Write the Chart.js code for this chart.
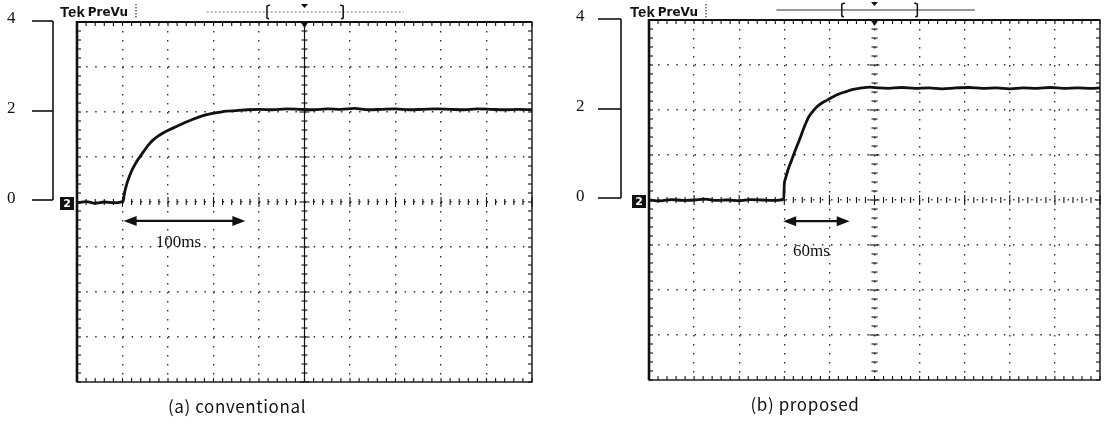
<!DOCTYPE html>
<html>
<head>
<meta charset="utf-8">
<script src="https://cdn.jsdelivr.net/npm/chart.js@4.4.0/dist/chart.umd.min.js"></script>
<style>
    html, body { margin: 0; padding: 0; background: #fff; }
    .panel { position: absolute; top: 0; width: 552px; height: 424px; }
</style>
</head>
<body>
<div class="panel" style="left:0"><canvas id="convChart" width="552" height="424"></canvas></div>
<div class="panel" style="left:552px"><canvas id="propChart" width="552" height="424"></canvas></div>
<script>
// scope screen: 10 div x 40 ms, 8 div x 1 unit
var timeMin = 0, timeMax = 400, timeDiv = 40;
var voltMin = -4, voltMax = 4;
var voltTickLabels = [0, 2, 4];

// (a) conventional
var convTimeMs = [0, 8, 16, 24, 32, 40, 40.5, 42, 44, 46.5, 49, 52.5, 55.5, 58.5, 62.5, 67,
    71.5, 76, 81.5, 87.5, 94.5, 102, 109.5, 117, 124, 131.5,
    140, 150, 161, 172, 184, 196, 208, 220, 232, 244,
    256, 268, 280, 292, 304, 316, 328, 340, 352, 364, 376, 388, 400];
var convVolt = [-0.02, 0.01, -0.03, 0.0, -0.02, 0.01, 0.02, 0.23, 0.42, 0.6, 0.74, 0.9, 1.01, 1.12, 1.26, 1.38,
    1.47, 1.54, 1.61, 1.68, 1.76, 1.84, 1.91, 1.96, 1.99, 2.02,
    2.03, 2.05, 2.06, 2.05, 2.07, 2.06, 2.05, 2.07, 2.06, 2.08,
    2.05, 2.06, 2.07, 2.05, 2.06, 2.07, 2.06, 2.05, 2.07, 2.06, 2.05, 2.06, 2.05];

// (b) proposed
var propTimeMs = [0, 10, 20, 30, 40, 50, 60, 70, 80, 90, 100, 110,
    119.5, 120, 121, 123.5, 126, 128, 130, 132.5, 135, 137,
    139, 141.5, 145, 149, 153, 158, 163, 169, 175, 181,
    188, 196, 204, 212, 224, 236, 248, 260, 272, 284,
    296, 308, 320, 332, 344, 356, 368, 380, 392, 400];
var propVolt = [0.0, -0.02, 0.01, -0.01, 0.0, 0.02, -0.01, 0.0, -0.02, 0.01, 0.0, -0.01,
    0.02, 0.35, 0.47, 0.69, 0.85, 0.99, 1.12, 1.28, 1.44, 1.58,
    1.7, 1.84, 1.96, 2.07, 2.15, 2.22, 2.29, 2.36, 2.41, 2.46,
    2.49, 2.51, 2.49, 2.48, 2.5, 2.48, 2.49, 2.47, 2.49, 2.5,
    2.48, 2.49, 2.47, 2.49, 2.48, 2.5, 2.48, 2.49, 2.48, 2.49];

function seg(ctx, x1, y1, x2, y2) {
    ctx.beginPath();
    ctx.moveTo(x1, y1);
    ctx.lineTo(x2, y2);
    ctx.stroke();
}

// bezel, graticule ticks, labels and the arrow
var scopeDecor = {
    id: 'scopeDecor',
    beforeDatasetsDraw: function (chart, args, o) {
        var ctx = chart.ctx, a = chart.chartArea;
        var xs = chart.scales.x, ys = chart.scales.y;
        var cx = xs.getPixelForValue((timeMin + timeMax) / 2);
        var cy = ys.getPixelForValue(0);
        ctx.save();
        ctx.strokeStyle = '#111';
        ctx.fillStyle = '#111';

        // frame
        ctx.lineWidth = 1.4;
        ctx.strokeRect(a.left, a.top, a.right - a.left, a.bottom - a.top);
        ctx.lineWidth = 2.6;
        seg(ctx, a.left, a.top - 1, a.left, a.bottom);
        ctx.lineWidth = 2;
        seg(ctx, a.left, a.top, a.right, a.top);
        if (o.solidCenter) {
            ctx.lineWidth = 1.2;
            seg(ctx, cx, a.top, cx, a.bottom);
        }

        // minor ticks every 1/5 division
        ctx.lineWidth = 1.1;
        for (var t = timeMin; t <= timeMax; t += timeDiv / 5) {
            var px = xs.getPixelForValue(t);
            var big = (t % timeDiv === 0) ? 5 : 3;
            seg(ctx, px, a.top, px, a.top + 4);
            seg(ctx, px, a.bottom, px, a.bottom - 4);
            seg(ctx, px, cy - big, px, cy + big);
        }
        for (var i = voltMin * 5; i <= voltMax * 5; i++) {
            var py = ys.getPixelForValue(i / 5);
            var bg = (i % 5 === 0) ? 5 : 3;
            seg(ctx, a.left, py, a.left + 4, py);
            seg(ctx, a.right, py, a.right - 4, py);
            seg(ctx, cx - bg, py, cx + bg, py);
        }

        // trigger mark on top edge
        ctx.beginPath();
        ctx.moveTo(cx - 4, a.top);
        ctx.lineTo(cx + 4, a.top);
        ctx.lineTo(cx, a.top + 6);
        ctx.closePath();
        ctx.fill();

        // bracket scale on the left
        ctx.lineWidth = 1.6;
        var bx = a.left - o.bracketGap;
        var yTop = ys.getPixelForValue(voltTickLabels[voltTickLabels.length - 1]) + o.bracketShift;
        var yBot = ys.getPixelForValue(voltTickLabels[0]) + o.bracketShift * 2;
        seg(ctx, bx, yTop, bx, yBot);
        voltTickLabels.forEach(function (v, k) {
            var yy = ys.getPixelForValue(v) + o.bracketShift * (k === 0 ? 2 : 1);
            seg(ctx, bx - o.bracketTick, yy, bx, yy);
        });

        // record window indicator
        var ty = o.trigY;
        ctx.lineWidth = 1;
        ctx.strokeStyle = o.trigColor;
        ctx.setLineDash(o.trigDash);
        seg(ctx, xs.getPixelForValue(o.trigFrom), ty, xs.getPixelForValue(o.trigTo), ty);
        ctx.setLineDash([]);
        ctx.strokeStyle = '#111';
        ctx.lineWidth = 1.5;
        var bl = xs.getPixelForValue(o.trigL), br = xs.getPixelForValue(o.trigR);
        ctx.beginPath();
        ctx.moveTo(bl + 3, ty - 7); ctx.lineTo(bl, ty - 6); ctx.lineTo(bl, ty + 6); ctx.lineTo(bl + 2, ty + 7);
        ctx.moveTo(br - 3, ty - 7); ctx.lineTo(br, ty - 6); ctx.lineTo(br, ty + 6); ctx.lineTo(br - 2, ty + 7);
        ctx.stroke();
        ctx.beginPath();
        ctx.moveTo(cx - 3.5, ty - 8); ctx.lineTo(cx + 3.5, ty - 8); ctx.lineTo(cx, ty - 4);
        ctx.closePath();
        ctx.fill();

        // Tek PreVu
        ctx.textBaseline = 'alphabetic';
        ctx.textAlign = 'left';
        ctx.font = 'bold 15px "Liberation Sans"';
        var tx = a.left + o.tekDx;
        ctx.fillText('Tek', tx, 17);
        tx += ctx.measureText('Tek').width + 3;
        ctx.font = 'bold 12px "DejaVu Sans"';
        ctx.fillText('PreVu', tx, 16);
        tx += ctx.measureText('PreVu').width + 8;
        ctx.lineWidth = 1;
        ctx.setLineDash([1.5, 1.5]);
        seg(ctx, tx, 4, tx, 18);
        ctx.setLineDash([]);

        // channel 2 ground marker
        ctx.fillRect(a.left - 17, cy - 5, 14, 13);
        ctx.fillStyle = '#fff';
        ctx.font = 'bold 11px "DejaVu Sans"';
        ctx.textAlign = 'center';
        ctx.textBaseline = 'middle';
        ctx.fillText('2', a.left - 10, cy + 2);
        ctx.fillStyle = '#111';

        // caption
        ctx.font = '17px "Noto Sans CJK KR"';
        ctx.letterSpacing = '0.6px';
        ctx.textAlign = 'center';
        ctx.textBaseline = 'middle';
        ctx.fillText(o.caption, a.left + o.captionDx, a.bottom + 25);
        ctx.letterSpacing = '0px';

        // duration arrow
        var ay = ys.getPixelForValue(o.arrowV);
        var ax1 = xs.getPixelForValue(o.arrowFrom), ax2 = xs.getPixelForValue(o.arrowTo);
        ctx.lineWidth = 2.2;
        seg(ctx, ax1 + 8, ay, ax2 - 8, ay);
        ctx.beginPath();
        ctx.moveTo(ax1, ay); ctx.lineTo(ax1 + 13, ay - 5); ctx.lineTo(ax1 + 13, ay + 5); ctx.closePath();
        ctx.moveTo(ax2, ay); ctx.lineTo(ax2 - 13, ay - 5); ctx.lineTo(ax2 - 13, ay + 5); ctx.closePath();
        ctx.fill();
        ctx.font = '17px "Liberation Serif"';
        ctx.fillText(o.arrowText, (ax1 + ax2) / 2 + o.arrowTextDx, ay + o.arrowTextDy);
        ctx.restore();
    }
};

function makeScope(canvasId, times, volts, deco, area) {
    var ctx = document.getElementById(canvasId).getContext('2d');
    var pts = times.map(function (t, i) { return { x: t, y: volts[i] }; });
    return new Chart(ctx, {
        type: 'line',
        data: {
            datasets: [{
                data: pts,
                borderColor: '#111',
                borderWidth: 2.8,
                pointRadius: 0,
                cubicInterpolationMode: 'monotone',
                fill: false
            }]
        },
        options: {
            responsive: false,
            animation: false,
            layout: { padding: { left: area.labelLeft, top: area.top, right: area.right, bottom: area.bottom } },
            plugins: {
                legend: { display: false },
                tooltip: { enabled: false },
                scopeDecor: deco
            },
            scales: {
                x: {
                    type: 'linear',
                    min: timeMin,
                    max: timeMax,
                    ticks: { display: false, stepSize: timeDiv },
                    grid: {
                        drawTicks: false,
                        lineWidth: 1.4,
                        color: function (c) {
                            var v = c.tick && c.tick.value;
                            return (v === timeMin || v === timeMax) ? 'rgba(0,0,0,0)' : '#333';
                        }
                    },
                    border: { display: false, dash: [1.5, 7.5] },
                    afterFit: function (s) { s.height = 0; }
                },
                y: {
                    min: voltMin,
                    max: voltMax,
                    ticks: {
                        stepSize: 1,
                        padding: 0,
                        crossAlign: 'far',
                        labelOffset: -3,
                        color: '#111',
                        font: { family: '"Liberation Serif"', size: 17 },
                        callback: function (v) { return voltTickLabels.indexOf(v) >= 0 ? String(v) : ''; }
                    },
                    grid: {
                        drawTicks: false,
                        lineWidth: 1.4,
                        color: function (c) {
                            var v = c.tick && c.tick.value;
                            return (v === voltMin || v === voltMax) ? 'rgba(0,0,0,0)' : '#333';
                        }
                    },
                    border: { display: false, dash: [1.5, 7.6] },
                    afterFit: function (s) { s.width = area.left - area.labelLeft; }
                }
            }
        },
        plugins: [scopeDecor]
    });
}

var convChart = makeScope('convChart', convTimeMs, convVolt, {
    caption: '(a) conventional', captionDx: 160,
    solidCenter: true,
    bracketGap: 24, bracketTick: 21, bracketShift: -1,
    trigY: 12, trigFrom: 114, trigTo: 287, trigL: 167, trigR: 234,
    trigDash: [2, 2], trigColor: '#777',
    tekDx: -17,
    arrowV: -0.42, arrowFrom: 41, arrowTo: 148, arrowText: '100ms', arrowTextDx: -6, arrowTextDy: 22
}, { left: 77, labelLeft: 7, top: 22, right: 20, bottom: 42 });

var propChart = makeScope('propChart', propTimeMs, propVolt, {
    caption: '(b) proposed', captionDx: 156,
    solidCenter: false,
    bracketGap: 28, bracketTick: 23, bracketShift: -1,
    trigY: 10, trigFrom: 113, trigTo: 289, trigL: 171, trigR: 238,
    trigDash: [], trigColor: '#333',
    tekDx: -19,
    arrowV: -0.47, arrowFrom: 119, arrowTo: 178, arrowText: '60ms', arrowTextDx: -5, arrowTextDy: 30
}, { left: 97, labelLeft: 24, top: 20, right: 4, bottom: 44 });
</script>
</body>
</html>
